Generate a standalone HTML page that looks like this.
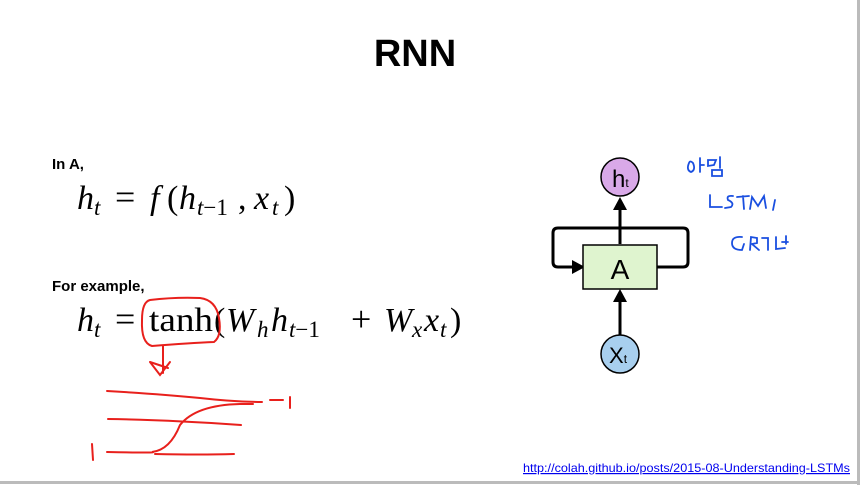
<!DOCTYPE html>
<html><head><meta charset="utf-8"><style>
html,body{margin:0;padding:0;background:#fff;}
svg{display:block}
</style></head><body>
<svg width="860" height="485" viewBox="0 0 860 485" xmlns="http://www.w3.org/2000/svg">
<rect x="0" y="0" width="860" height="485" fill="#fff"/>
<line x1="0" y1="482.5" x2="860" y2="482.5" stroke="#bbb" stroke-width="3"/>
<line x1="858.5" y1="0" x2="858.5" y2="485" stroke="#bbb" stroke-width="3"/>
<text x="415" y="66" text-anchor="middle" font-family="Liberation Sans, sans-serif" font-weight="bold" font-size="38">RNN</text>
<text x="52" y="169" font-family="Liberation Sans, sans-serif" font-weight="bold" font-size="15">In A,</text>
<text x="52" y="291" font-family="Liberation Sans, sans-serif" font-weight="bold" font-size="15">For example,</text>
<g font-family="Liberation Serif, serif" font-size="34">
<!-- formula 1 -->
<text x="77" y="209" font-style="italic">h</text>
<text x="94" y="215" font-style="italic" font-size="23">t</text>
<text x="115" y="209" font-size="36">=</text>
<text x="150" y="209" font-style="italic">f</text>
<text x="167" y="209">(</text>
<text x="179" y="209" font-style="italic">h</text>
<text x="197" y="215" font-size="23"><tspan font-style="italic">t</tspan>−1</text>
<text x="238" y="209">,</text>
<text x="254" y="209" font-style="italic">x</text>
<text x="272" y="215" font-style="italic" font-size="23">t</text>
<text x="284" y="209">)</text>
<!-- formula 2 -->
<text x="77" y="331" font-style="italic">h</text>
<text x="94" y="337" font-style="italic" font-size="23">t</text>
<text x="115" y="331" font-size="36">=</text>
<text x="149" y="331" textLength="64" lengthAdjust="spacingAndGlyphs">tanh</text>
<text x="214" y="331">(</text>
<text x="226" y="331" font-style="italic">W</text>
<text x="257" y="337" font-style="italic" font-size="23">h</text>
<text x="271" y="331" font-style="italic">h</text>
<text x="289" y="337" font-size="23"><tspan font-style="italic">t</tspan>−1</text>
<text x="351" y="331" font-size="36">+</text>
<text x="384" y="331" font-style="italic">W</text>
<text x="412" y="337" font-style="italic" font-size="23">x</text>
<text x="424" y="331" font-style="italic">x</text>
<text x="440" y="337" font-style="italic" font-size="23">t</text>
<text x="450" y="331">)</text>
</g>
<!-- red annotations -->
<g fill="none" stroke="#e8201c" stroke-width="2" stroke-linecap="round">
<path d="M150 300 Q142 302 142 320 Q141 343 152 346 Q190 343 214 342 Q222 336 219 318 Q216 300 200 298 Q175 297 150 300"/>
<path d="M163 346 L163 373 M150 362 L160 375 L170 362 M150 362 L168 368"/>
<path d="M107 391 Q160 394 200 398 Q235 402 262 402"/>
<path d="M108 419 Q170 420 241 425"/>
<path d="M107 452 Q160 453 152 452 Q170 450 180 425 Q196 405 240 404 L253 404"/>
<path d="M155 454 Q200 455 234 454"/>
<path d="M270 400 L283 400 M290 397 L290 408"/>
<path d="M92 444 L93 460"/>
</g>
<!-- diagram -->
<g stroke="#000" stroke-width="3" fill="none">
<path d="M620 244 L620 210"/>
<path d="M620 347 L620 300"/>
<path d="M620 228 L558 228 Q553 228 553 233 L553 262 Q553 267 558 267 L575 267"/>
<path d="M657 267 L683 267 Q688 267 688 262 L688 233 Q688 228 683 228 L620 228"/>
</g>
<polygon points="613,210 627,210 620,197" fill="#000"/>
<polygon points="613,302 627,302 620,289" fill="#000"/>
<polygon points="572,260 572,274 585,267" fill="#000"/>
<rect x="583" y="245" width="74" height="44" fill="#dff4cf" stroke="#000" stroke-width="1.5"/>
<text x="620" y="279" text-anchor="middle" font-family="Liberation Sans, sans-serif" font-size="28">A</text>
<circle cx="620" cy="177" r="19" fill="#d9a9e8" stroke="#000" stroke-width="1.5"/>
<text x="612" y="187" font-family="Liberation Sans, sans-serif" font-size="24">h<tspan font-size="12">t</tspan></text>
<circle cx="620" cy="354" r="19" fill="#a8cfee" stroke="#000" stroke-width="1.5"/>
<text x="609" y="363" font-family="Liberation Sans, sans-serif" font-size="22">X<tspan font-size="12">t</tspan></text>
<!-- blue handwriting -->
<g fill="none" stroke="#1a4fe0" stroke-width="1.8" stroke-linecap="round">
<path d="M689 163 Q686 170 691 172 Q696 170 693 163 Q690 160 689 163 M700 158 L700 172 M700 165 L704 165"/>
<path d="M708 160 L716 160 L714 165 L708 166 Z M720 157 L720 168 M712 170 L722 170 L722 176 L712 176 Z"/>
<path d="M710 195 L710 207 L722 207 M733 196 Q726 195 728 200 Q735 203 731 207 L725 208 M737 197 L749 196 M743 196 L744 209 M750 209 L752 197 L758 206 L764 196 L766 208 M775 200 L773 210"/>
<path d="M742 237 Q732 236 732 243 Q732 250 742 250 L744 244 M750 250 L751 237 L757 238 L757 243 L752 244 L759 250 M762 238 L768 238 L768 250 M776 237 L776 249 L785 248 M786 236 L786 244 M782 242 L788 242"/>
</g>
<text x="523" y="472" font-family="Liberation Sans, sans-serif" font-size="12" fill="#0000ee" text-decoration="underline" textLength="327" lengthAdjust="spacingAndGlyphs">http://colah.github.io/posts/2015-08-Understanding-LSTMs</text>
</svg>
</body></html>
